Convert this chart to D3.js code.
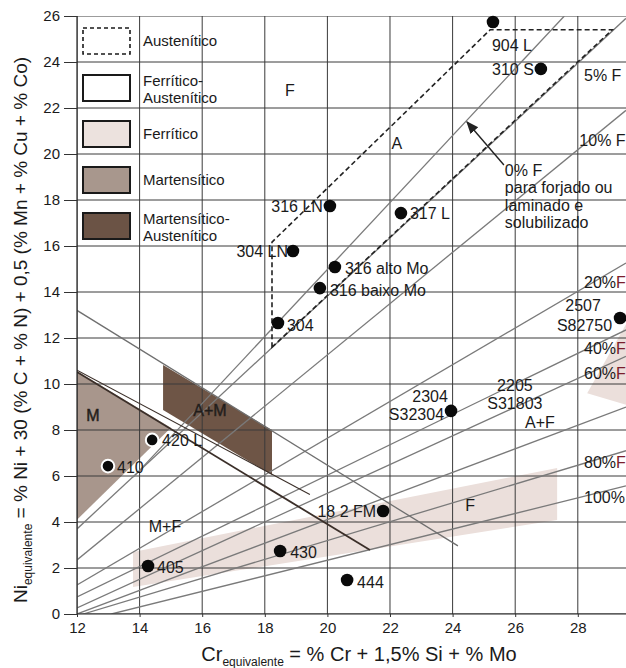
<!DOCTYPE html>
<html>
<head>
<meta charset="utf-8">
<script src="https://cdn.jsdelivr.net/npm/d3@7"></script>
<style>
body{margin:0;background:#fff;}
text{font-family:"Liberation Sans",Arial,sans-serif;fill:#1a1a1a;}
</style>
</head>
<body>
<div class="chart"></div>
<script>
// axes
var crTicks = [12,14,16,18,20,22,24,26,28];
var niTicks = [0,2,4,6,8,10,12,14,16,18,20,22,24,26];

// steels (Cr eq, Ni eq)
var steelNames = ["904 L","310 S","316 LN","317 L","304 LN","316 alto Mo","316 baixo Mo","304","2507","2304","420 L","410","18 2 FM","430","405","444"];
var steelCr = [25.29,26.82,20.08,22.35,18.90,20.24,19.76,18.42,29.35,23.95,14.40,12.99,21.78,18.49,14.27,20.63];
var steelNi = [25.74,23.70,17.74,17.43,15.78,15.09,14.17,12.65,12.87,8.83,7.57,6.43,4.48,2.74,2.09,1.48];

// iso-ferrite lines
var ferriteStart = [[13.8,5.95],[12,3.7],[12,2.35],[12,1.26],[12,0.74],[12,0.26],[12,0],[12.2,0],[13.1,0]];
var ferriteEnd = [[27.57,26],[29.54,25.9],[29.54,21.9],[29.54,15.26],[29.54,12.35],[29.54,11.2],[29.54,9.0],[29.54,7.1],[29.54,5.57]];
var ferriteText = ["5% F","10% F","20%","40%","60%","80%","100%"];
var ferriteTextNi = [23.43,20.6,14.43,11.57,10.48,6.61,5.09];

// descending boundaries
var msLine = [[12,13.2],[24.17,2.96]];
var mLine = [[12,10.52],[21.36,2.78]];
var mLine2 = [[12,10.6],[19.44,5.2]];

// areas
var austArea = [[18.23,11.6],[18.23,16.17],[25.2,25.4],[29.1,25.4]];
var martArea = [[12,10.55],[12,4.1],[15.0,8.1]];
var martAustArea = [[14.75,10.83],[14.75,8.87],[18.23,6.04],[18.23,8.0]];
var ferrArea = [[13.79,2.70],[27.34,6.35],[27.34,4.09],[13.79,1.17]];
var ferrArea2 = [[29.54,12.6],[28.3,9.6],[29.54,9.1]];

// region letters
var regionNames = ["A","F","M","A+M","M+F","F","A+F"];
var regionCr = [22.22,18.8,12.51,16.25,14.81,24.56,26.79];
var regionNi = [20.48,22.78,8.65,8.87,3.83,4.74,8.35];

var legendNames = [["Austenítico"],["Ferrítico-","Austenítico"],["Ferrítico"],["Martensítico"],["Martensítico-","Austenítico"]];

var W = 626, H = 668;
var svg = d3.select("div.chart").append("svg")
    .attr("width",W)
    .attr("height",H);

var x = d3.scaleLinear().domain([12,29.54]).range([77,626]);
var y = d3.scaleLinear().domain([0,26]).range([614,16]);
var line = d3.line().x(function(d){return x(d[0]);}).y(function(d){return y(d[1]);});

svg.append("clipPath").attr("id","plot")
    .append("rect")
    .attr("x",x(12)).attr("y",y(26))
    .attr("width",x(29.54)-x(12)).attr("height",y(0)-y(26));

var plot = svg.append("g").attr("clip-path","url(#plot)");

// filled areas
plot.append("path").attr("d",line(ferrArea)+"Z").attr("fill","#ebdfdb");
plot.append("path").attr("d",line(ferrArea2)+"Z").attr("fill","#ebdfdb");
plot.append("path").attr("d",line(martArea)+"Z").attr("fill","#a8968c");
plot.append("path").attr("d",line(martAustArea)+"Z").attr("fill","#6e5546");

// grid
plot.selectAll("line.vg").data(crTicks).enter().append("line")
    .attr("x1",function(d){return x(d);}).attr("x2",function(d){return x(d);})
    .attr("y1",y(0)).attr("y2",y(26))
    .attr("stroke","#3a3a3a").attr("stroke-width",1);
plot.selectAll("line.hg").data(niTicks).enter().append("line")
    .attr("x1",x(12)).attr("x2",x(29.54))
    .attr("y1",function(d){return y(d);}).attr("y2",function(d){return y(d);})
    .attr("stroke","#3a3a3a").attr("stroke-width",1);

// iso-ferrite lines
plot.selectAll("path.fl").data(ferriteStart).enter().append("path")
    .attr("d",function(d,i){return line([d,ferriteEnd[i]]);})
    .attr("fill","none")
    .attr("stroke","#7a7a7a")
    .attr("stroke-width",1.3);

plot.append("path").attr("d",line(msLine)).attr("fill","none").attr("stroke","#6f6f6f").attr("stroke-width",1.3);
plot.append("path").attr("d",line(mLine2)).attr("fill","none").attr("stroke","#3b2f29").attr("stroke-width",1.1);
plot.append("path").attr("d",line(mLine)).attr("fill","none").attr("stroke","#3b2f29").attr("stroke-width",1.8);

// austenitic dashed area
plot.append("path").attr("d",line(austArea)+"Z")
    .attr("fill","none")
    .attr("stroke","#222")
    .attr("stroke-width",1.6)
    .attr("stroke-dasharray","5,3");

// axes
svg.append("line").attr("x1",x(12)).attr("x2",x(12)).attr("y1",y(0)).attr("y2",y(26))
    .attr("stroke","#222").attr("stroke-width",1.2);
svg.append("line").attr("x1",x(12)).attr("x2",x(29.54)).attr("y1",y(0)).attr("y2",y(0))
    .attr("stroke","#222").attr("stroke-width",1.2);

var yAxis = svg.append("g").attr("transform","translate("+x(12)+",0)")
    .call(d3.axisLeft(y).tickValues(niTicks).tickSize(13).tickPadding(4));
var xAxis = svg.append("g").attr("transform","translate(0,"+y(0)+")")
    .call(d3.axisBottom(x).tickValues(crTicks).tickSize(3).tickPadding(5));
[yAxis,xAxis].forEach(function(a){
    a.select(".domain").remove();
    a.selectAll("line").attr("stroke","#333");
    a.selectAll("text").attr("font-size","15px").attr("font-family","Liberation Sans, Arial").attr("fill","#1a1a1a");
});

// steel points
var pts = svg.append("g");
pts.selectAll("circle").data(steelNames).enter().append("circle")
    .attr("cx",function(d,i){return x(steelCr[i]);})
    .attr("cy",function(d,i){return y(steelNi[i]);})
    .attr("r",6.3)
    .attr("fill","#0a0a0a")
    .attr("stroke",function(d){return (d=="420 L"||d=="410")?"#fff":"none";})
    .attr("stroke-width",2);

// label placement: [anchor, dx, dy]
var place = {
    "904 L":["start",-1,29],
    "310 S":["end",-7,6],
    "316 LN":["end",-7,6],
    "317 L":["start",9,6],
    "304 LN":["end",-5,6],
    "316 alto Mo":["start",10,7],
    "316 baixo Mo":["start",10,8],
    "304":["start",9,8],
    "420 L":["start",10,6],
    "410":["start",9,7],
    "18 2 FM":["end",-7,6],
    "430":["start",10,7],
    "405":["start",9,7],
    "444":["start",10,8]
};
steelNames.forEach(function(n,i){
    var cx = x(steelCr[i]), cy = y(steelNi[i]);
    if(place[n]){
        svg.append("text").text(n)
            .attr("x",cx+place[n][1]).attr("y",cy+place[n][2])
            .attr("text-anchor",place[n][0])
            .attr("font-size","16px");
    }
});
function twoLine(name,code,idx,dx1,dy1,dx2,dy2){
    var cx = x(steelCr[idx]), cy = y(steelNi[idx]);
    svg.append("text").text(name).attr("x",cx+dx1).attr("y",cy+dy1)
        .attr("text-anchor","middle").attr("font-size","16px");
    svg.append("text").text(code).attr("x",cx+dx2).attr("y",cy+dy2)
        .attr("text-anchor","end").attr("font-size","16px");
}
twoLine("2507","S82750",steelNames.indexOf("2507"),-37,-7,-8,13);
twoLine("2304","S32304",steelNames.indexOf("2304"),-21,-9,-7,9);

// 2205 (no point)
svg.append("text").text("2205").attr("x",x(25.99)).attr("y",y(9.96)+6)
    .attr("text-anchor","middle").attr("font-size","16px");
svg.append("text").text("S31803").attr("x",x(25.99)).attr("y",y(9.17)+6)
    .attr("text-anchor","middle").attr("font-size","16px");

// region letters
regionNames.forEach(function(n,i){
    var t = svg.append("text").text(n)
        .attr("x",x(regionCr[i])).attr("y",y(regionNi[i])+6)
        .attr("text-anchor","middle")
        .attr("font-size","16px");
    if(n=="M"||n=="A+M"){
        t.attr("fill","#e6ddd8").attr("stroke","#2e2520").attr("stroke-width",0.5);
    }
});

// ferrite % labels
ferriteText.forEach(function(s,i){
    var t = svg.append("text")
        .attr("x",x(s=="10% F"?28.05:28.2)).attr("y",y(ferriteTextNi[i])+6)
        .attr("font-size","16px");
    t.append("tspan").text(s);
    if(s=="20%"||s=="40%"||s=="60%"||s=="80%")
        t.append("tspan").text("F").attr("fill","#7b1e2c");
});

// 0% F note and arrow
var note = ["0% F","para forjado ou","laminado e","solubilizado"];
var noteNi = [19.3,18.57,17.8,17.05];
note.forEach(function(s,i){
    svg.append("text").text(s)
        .attr("x",x(25.67)).attr("y",y(noteNi[i])+6)
        .attr("font-size","16px");
});
svg.append("defs").append("marker")
    .attr("id","arr").attr("viewBox","0 0 10 10")
    .attr("refX",9).attr("refY",5)
    .attr("markerWidth",9).attr("markerHeight",9)
    .attr("orient","auto")
    .append("path").attr("d","M0,1L10,5L0,9Z").attr("fill","#222");
svg.append("line")
    .attr("x1",x(25.64)).attr("y1",y(19.52))
    .attr("x2",x(24.46)).attr("y2",y(21.39))
    .attr("stroke","#222").attr("stroke-width",1.4)
    .attr("marker-end","url(#arr)");

// legend
var legTop = [28,75,121,167,213];
var legFill = ["none","none","#ece2de","#a8978d","#6b5345"];
legendNames.forEach(function(lines,i){
    svg.append("rect")
        .attr("x",83).attr("y",legTop[i])
        .attr("width",47).attr("height",26)
        .attr("fill",legFill[i])
        .attr("stroke","#1a1a1a")
        .attr("stroke-width",i==0?1.6:2)
        .attr("stroke-dasharray",i==0?"4,3":null);
    lines.forEach(function(s,j){
        svg.append("text").text(s)
            .attr("x",143)
            .attr("y",lines.length==1?legTop[i]+18:legTop[i]+11+j*17)
            .attr("font-size","15px");
    });
});

// axis titles
var xt = svg.append("text")
    .attr("x",359).attr("y",661)
    .attr("text-anchor","middle")
    .attr("font-size","20px");
xt.append("tspan").text("Cr");
xt.append("tspan").text("equivalente").attr("font-size","12px").attr("dy",5);
xt.append("tspan").text(" = % Cr + 1,5% Si + % Mo").attr("dy",-5);

var yt = svg.append("text")
    .attr("transform","translate(27,330) rotate(-90)")
    .attr("text-anchor","middle")
    .attr("font-size","19px");
yt.append("tspan").text("Ni");
yt.append("tspan").text("equivalente").attr("font-size","12px").attr("dy",5);
yt.append("tspan").text(" = % Ni + 30 (% C + % N) + 0,5 (% Mn + % Cu + % Co)").attr("dy",-5);
</script>
</body>
</html>
